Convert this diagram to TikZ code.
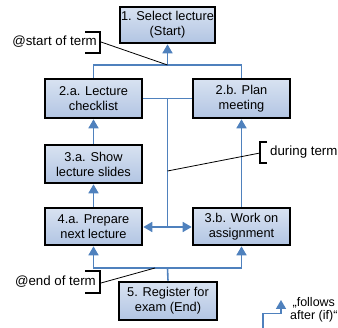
\documentclass[tikz,border=0pt]{standalone}
\usepackage{fontspec}
\setmainfont{Liberation Sans}
\usetikzlibrary{arrows.meta}
\definecolor{flowblue}{HTML}{4F81BD}
\definecolor{boxtop}{HTML}{D8E2F1}
\definecolor{boxbot}{HTML}{B2C5E3}
\tikzset{
  stepbox/.style={draw=black, line width=2.6pt, top color=boxtop, bottom color=boxbot,
    align=center, inner sep=1pt, font=\fontsize{12.8}{15}\selectfont},
  flow/.style={draw=flowblue, line width=1.6pt},
  flowarr/.style={flow, -{Triangle[length=9pt,width=10pt]}},
  brk/.style={draw=black, line width=2.2pt},
  lead/.style={draw=black, line width=0.8pt},
  lbl/.style={font=\fontsize{13.3}{15}\selectfont, inner sep=0pt}
}
\begin{document}
\begin{tikzpicture}[x=1pt,y=-1pt]
\useasboundingbox (0,0) rectangle (338,328);
% boxes
\node[stepbox, minimum width=95pt, minimum height=36pt] (b1) at (167.5,25) {1. Select lecture\\(Start)};
\node[stepbox, minimum width=97pt, minimum height=39pt] (b2a) at (93.5,98.5) {2.a. Lecture\\checklist};
\node[stepbox, minimum width=97pt, minimum height=39pt] (b2b) at (241.5,98.5) {2.b. Plan\\meeting};
\node[stepbox, minimum width=97pt, minimum height=38pt] (b3a) at (93.5,164) {3.a. Show\\lecture slides};
\node[stepbox, minimum width=97pt, minimum height=37pt] (b4a) at (93.5,226.5) {4.a. Prepare\\next lecture};
\node[stepbox, minimum width=97pt, minimum height=37pt] (b3b) at (241.5,226.5) {3.b. Work on\\assignment};
\node[stepbox, minimum width=98pt, minimum height=38pt] (b5) at (168,301) {5. Register for\\exam (End)};
% junctions
\coordinate (j1) at (167.5,65);
\coordinate (j2) at (167.5,98.5);
\coordinate (j3) at (167.5,227);
\coordinate (j4) at (167.5,268);
% top
\draw[flow] (b2a.north) |- (j1) -| (b2b.north);
\draw[flowarr] (j1) -- (b1.south);
% middle
\draw[flow] (b2a.east) -- (b2b.west);
\draw[flow] (j2) -- (j3);
\draw[flowarr] (j3) -- (b4a.east |- j3);
\draw[flowarr] (j3) -- (b3b.west |- j3);
% verticals
\draw[flowarr] (b3a.north) -- (b2a.south);
\draw[flowarr] (b4a.north) -- (b3a.south);
\draw[flowarr] (b3b.north) -- (b2b.south);
% bottom
\draw[flow] (b5.north) -- (j4);
\draw[flowarr] (j4) -| (b4a.south);
\draw[flowarr] (j4) -| (b3b.south);
% annotations
\node[lbl, anchor=east] (tstart) at (97,42) {@start of term};
\draw[brk] (85,32) -- (100,32) -- (100,53) -- (85,53);
\coordinate (bs) at (101,42);
\draw[lead] (bs) -- (j1);

\node[lbl, anchor=west] (tdur) at (270,152.5) {during term};
\draw[brk] (267,142) -- (260,142) -- (260,163) -- (267,163);
\coordinate (bd) at (260,153);
\coordinate (ld) at (167.5,171);
\draw[lead] (bd) -- (ld);

\node[lbl, anchor=east] (tend) at (96,282) {@end of term};
\draw[brk] (85,271) -- (100,271) -- (100,293) -- (85,293);
\coordinate (be) at (101,283);
\coordinate (le) at (155,268);
\draw[lead] (be) -- (le);
% legend
\coordinate (g0) at (263,328);
\coordinate (g1) at (263,313.5);
\coordinate (g2) at (281,313.5);
\coordinate (g3) at (281,300);
\draw[flowarr] (g0) -- (g1) -- (g2) -- (g3);
\node[lbl, align=center, anchor=west, font=\fontsize{12.5}{12.5}\selectfont] (leg) at (290,310) {„follows\\after (if)“};
\end{tikzpicture}
\end{document}
